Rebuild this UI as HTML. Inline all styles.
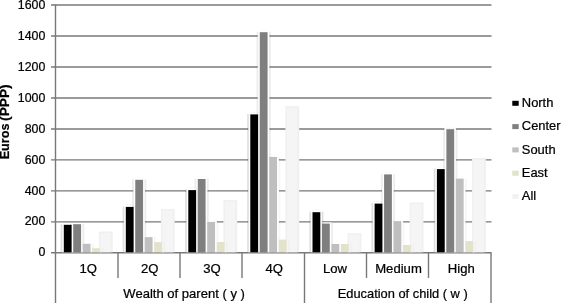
<!DOCTYPE html><html><head><meta charset="utf-8"><title>chart</title>
<style>html,body{margin:0;padding:0;background:#fff}body{width:561px;height:303px;overflow:hidden}svg{display:block}text{stroke:#000;stroke-width:0.22px;font-family:"Liberation Sans",Arial,Helvetica,sans-serif;fill:#000}</style></head><body>
<svg width="561" height="303" viewBox="0 0 561 303">
<rect width="561" height="303" fill="#fff"/>
<line x1="51" y1="5.05" x2="491.5" y2="5.05" stroke="#787878" stroke-width="1.4"/>
<line x1="51" y1="36.02" x2="491.5" y2="36.02" stroke="#787878" stroke-width="1.4"/>
<line x1="51" y1="66.99" x2="491.5" y2="66.99" stroke="#787878" stroke-width="1.4"/>
<line x1="51" y1="97.96" x2="491.5" y2="97.96" stroke="#787878" stroke-width="1.4"/>
<line x1="51" y1="128.93" x2="491.5" y2="128.93" stroke="#787878" stroke-width="1.4"/>
<line x1="51" y1="159.89" x2="491.5" y2="159.89" stroke="#787878" stroke-width="1.4"/>
<line x1="51" y1="190.86" x2="491.5" y2="190.86" stroke="#787878" stroke-width="1.4"/>
<line x1="51" y1="221.83" x2="491.5" y2="221.83" stroke="#787878" stroke-width="1.4"/>
<line x1="51" y1="252.80" x2="491.5" y2="252.80" stroke="#787878" stroke-width="1.4"/>
<line x1="55.5" y1="4.55" x2="55.5" y2="303" stroke="#787878" stroke-width="1.4"/>
<line x1="118.0" y1="252.8" x2="118.0" y2="277.9" stroke="#787878" stroke-width="1.4"/>
<line x1="180.0" y1="252.8" x2="180.0" y2="277.9" stroke="#787878" stroke-width="1.4"/>
<line x1="242.0" y1="252.8" x2="242.0" y2="277.9" stroke="#787878" stroke-width="1.4"/>
<line x1="304.5" y1="252.8" x2="304.5" y2="303" stroke="#787878" stroke-width="1.4"/>
<line x1="366.5" y1="252.8" x2="366.5" y2="277.9" stroke="#787878" stroke-width="1.4"/>
<line x1="428.5" y1="252.8" x2="428.5" y2="277.9" stroke="#787878" stroke-width="1.4"/>
<line x1="491.0" y1="252.8" x2="491.0" y2="303" stroke="#787878" stroke-width="1.4"/>
<rect x="61.70" y="223.70" width="11.80" height="28.55" fill="#fff"/>
<rect x="71.17" y="223.10" width="11.80" height="29.15" fill="#fff"/>
<rect x="80.65" y="242.70" width="11.80" height="9.55" fill="#fff"/>
<rect x="90.12" y="247.10" width="11.80" height="5.15" fill="#fff"/>
<rect x="123.70" y="205.80" width="11.80" height="46.45" fill="#fff"/>
<rect x="133.18" y="178.70" width="11.80" height="73.55" fill="#fff"/>
<rect x="142.65" y="236.00" width="11.80" height="16.25" fill="#fff"/>
<rect x="152.12" y="241.00" width="11.80" height="11.25" fill="#fff"/>
<rect x="186.20" y="189.00" width="11.80" height="63.25" fill="#fff"/>
<rect x="195.68" y="177.90" width="11.80" height="74.35" fill="#fff"/>
<rect x="205.15" y="220.80" width="11.80" height="31.45" fill="#fff"/>
<rect x="214.63" y="240.90" width="11.80" height="11.35" fill="#fff"/>
<rect x="248.20" y="113.30" width="11.80" height="138.95" fill="#fff"/>
<rect x="257.68" y="31.10" width="11.80" height="221.15" fill="#fff"/>
<rect x="267.15" y="155.80" width="11.80" height="96.45" fill="#fff"/>
<rect x="276.62" y="238.50" width="11.80" height="13.75" fill="#fff"/>
<rect x="310.40" y="211.10" width="11.80" height="41.15" fill="#fff"/>
<rect x="319.88" y="222.50" width="11.80" height="29.75" fill="#fff"/>
<rect x="329.35" y="242.90" width="11.80" height="9.35" fill="#fff"/>
<rect x="338.82" y="242.90" width="11.80" height="9.35" fill="#fff"/>
<rect x="372.50" y="202.50" width="11.80" height="49.75" fill="#fff"/>
<rect x="381.98" y="173.30" width="11.80" height="78.95" fill="#fff"/>
<rect x="391.45" y="220.00" width="11.80" height="32.25" fill="#fff"/>
<rect x="400.93" y="243.90" width="11.80" height="8.35" fill="#fff"/>
<rect x="434.80" y="168.00" width="11.80" height="84.25" fill="#fff"/>
<rect x="444.28" y="128.10" width="11.80" height="124.15" fill="#fff"/>
<rect x="453.75" y="177.50" width="11.80" height="74.75" fill="#fff"/>
<rect x="463.23" y="240.00" width="11.80" height="12.25" fill="#fff"/>
<rect x="98.90" y="231.50" width="13.80" height="20.75" fill="#f0f0f0"/>
<rect x="160.90" y="209.00" width="13.80" height="43.25" fill="#f0f0f0"/>
<rect x="223.40" y="200.10" width="13.80" height="52.15" fill="#f0f0f0"/>
<rect x="285.40" y="106.20" width="13.80" height="146.05" fill="#f0f0f0"/>
<rect x="347.60" y="233.20" width="13.80" height="19.05" fill="#f0f0f0"/>
<rect x="409.70" y="202.50" width="13.80" height="49.75" fill="#f0f0f0"/>
<rect x="472.00" y="158.00" width="13.80" height="94.25" fill="#f0f0f0"/>
<rect x="100.40" y="233.00" width="10.40" height="19.25" fill="#f5f5f5"/>
<rect x="162.40" y="210.50" width="10.40" height="41.75" fill="#f5f5f5"/>
<rect x="224.90" y="201.60" width="10.40" height="50.65" fill="#f5f5f5"/>
<rect x="286.90" y="107.70" width="10.40" height="144.55" fill="#f5f5f5"/>
<rect x="349.10" y="234.70" width="10.40" height="17.55" fill="#f5f5f5"/>
<rect x="411.20" y="204.00" width="10.40" height="48.25" fill="#f5f5f5"/>
<rect x="473.50" y="159.50" width="10.40" height="92.75" fill="#f5f5f5"/>
<path d="M61.50 252.10V224.30M73.90 224.30V252.10" fill="none" stroke="#000" stroke-opacity="0.12" stroke-width="1.8"/>
<path d="M62.80 222.60H72.60" fill="none" stroke="#000" stroke-opacity="0.036" stroke-width="1"/>
<path d="M70.97 252.10V223.70M83.37 223.70V252.10" fill="none" stroke="#000" stroke-opacity="0.075" stroke-width="1.8"/>
<path d="M72.27 222.00H82.07" fill="none" stroke="#000" stroke-opacity="0.022" stroke-width="1"/>
<path d="M80.45 252.10V243.30M92.85 243.30V252.10" fill="none" stroke="#000" stroke-opacity="0.035" stroke-width="1.8"/>
<path d="M81.75 241.60H91.55" fill="none" stroke="#000" stroke-opacity="0.011" stroke-width="1"/>
<path d="M89.92 252.10V247.70M102.32 247.70V252.10" fill="none" stroke="#000" stroke-opacity="0.02" stroke-width="1.8"/>
<path d="M91.22 246.00H101.02" fill="none" stroke="#000" stroke-opacity="0.006" stroke-width="1"/>
<path d="M123.50 252.10V206.40M135.90 206.40V252.10" fill="none" stroke="#000" stroke-opacity="0.12" stroke-width="1.8"/>
<path d="M124.80 204.70H134.60" fill="none" stroke="#000" stroke-opacity="0.036" stroke-width="1"/>
<path d="M132.97 252.10V179.30M145.38 179.30V252.10" fill="none" stroke="#000" stroke-opacity="0.075" stroke-width="1.8"/>
<path d="M134.28 177.60H144.08" fill="none" stroke="#000" stroke-opacity="0.022" stroke-width="1"/>
<path d="M142.45 252.10V236.60M154.85 236.60V252.10" fill="none" stroke="#000" stroke-opacity="0.035" stroke-width="1.8"/>
<path d="M143.75 234.90H153.55" fill="none" stroke="#000" stroke-opacity="0.011" stroke-width="1"/>
<path d="M151.92 252.10V241.60M164.33 241.60V252.10" fill="none" stroke="#000" stroke-opacity="0.02" stroke-width="1.8"/>
<path d="M153.22 239.90H163.03" fill="none" stroke="#000" stroke-opacity="0.006" stroke-width="1"/>
<path d="M186.00 252.10V189.60M198.40 189.60V252.10" fill="none" stroke="#000" stroke-opacity="0.12" stroke-width="1.8"/>
<path d="M187.30 187.90H197.10" fill="none" stroke="#000" stroke-opacity="0.036" stroke-width="1"/>
<path d="M195.47 252.10V178.50M207.88 178.50V252.10" fill="none" stroke="#000" stroke-opacity="0.075" stroke-width="1.8"/>
<path d="M196.78 176.80H206.58" fill="none" stroke="#000" stroke-opacity="0.022" stroke-width="1"/>
<path d="M204.95 252.10V221.40M217.35 221.40V252.10" fill="none" stroke="#000" stroke-opacity="0.035" stroke-width="1.8"/>
<path d="M206.25 219.70H216.05" fill="none" stroke="#000" stroke-opacity="0.011" stroke-width="1"/>
<path d="M214.43 252.10V241.50M226.83 241.50V252.10" fill="none" stroke="#000" stroke-opacity="0.02" stroke-width="1.8"/>
<path d="M215.73 239.80H225.53" fill="none" stroke="#000" stroke-opacity="0.006" stroke-width="1"/>
<path d="M248.00 252.10V113.90M260.40 113.90V252.10" fill="none" stroke="#000" stroke-opacity="0.12" stroke-width="1.8"/>
<path d="M249.30 112.20H259.10" fill="none" stroke="#000" stroke-opacity="0.036" stroke-width="1"/>
<path d="M257.48 252.10V31.70M269.88 31.70V252.10" fill="none" stroke="#000" stroke-opacity="0.075" stroke-width="1.8"/>
<path d="M258.78 30.00H268.58" fill="none" stroke="#000" stroke-opacity="0.022" stroke-width="1"/>
<path d="M266.95 252.10V156.40M279.35 156.40V252.10" fill="none" stroke="#000" stroke-opacity="0.035" stroke-width="1.8"/>
<path d="M268.25 154.70H278.05" fill="none" stroke="#000" stroke-opacity="0.011" stroke-width="1"/>
<path d="M276.43 252.10V239.10M288.83 239.10V252.10" fill="none" stroke="#000" stroke-opacity="0.02" stroke-width="1.8"/>
<path d="M277.73 237.40H287.53" fill="none" stroke="#000" stroke-opacity="0.006" stroke-width="1"/>
<path d="M310.20 252.10V211.70M322.60 211.70V252.10" fill="none" stroke="#000" stroke-opacity="0.12" stroke-width="1.8"/>
<path d="M311.50 210.00H321.30" fill="none" stroke="#000" stroke-opacity="0.036" stroke-width="1"/>
<path d="M319.68 252.10V223.10M332.08 223.10V252.10" fill="none" stroke="#000" stroke-opacity="0.075" stroke-width="1.8"/>
<path d="M320.98 221.40H330.78" fill="none" stroke="#000" stroke-opacity="0.022" stroke-width="1"/>
<path d="M329.15 252.10V243.50M341.55 243.50V252.10" fill="none" stroke="#000" stroke-opacity="0.035" stroke-width="1.8"/>
<path d="M330.45 241.80H340.25" fill="none" stroke="#000" stroke-opacity="0.011" stroke-width="1"/>
<path d="M338.62 252.10V243.50M351.03 243.50V252.10" fill="none" stroke="#000" stroke-opacity="0.02" stroke-width="1.8"/>
<path d="M339.93 241.80H349.73" fill="none" stroke="#000" stroke-opacity="0.006" stroke-width="1"/>
<path d="M372.30 252.10V203.10M384.70 203.10V252.10" fill="none" stroke="#000" stroke-opacity="0.12" stroke-width="1.8"/>
<path d="M373.60 201.40H383.40" fill="none" stroke="#000" stroke-opacity="0.036" stroke-width="1"/>
<path d="M381.78 252.10V173.90M394.18 173.90V252.10" fill="none" stroke="#000" stroke-opacity="0.075" stroke-width="1.8"/>
<path d="M383.08 172.20H392.88" fill="none" stroke="#000" stroke-opacity="0.022" stroke-width="1"/>
<path d="M391.25 252.10V220.60M403.65 220.60V252.10" fill="none" stroke="#000" stroke-opacity="0.035" stroke-width="1.8"/>
<path d="M392.55 218.90H402.35" fill="none" stroke="#000" stroke-opacity="0.011" stroke-width="1"/>
<path d="M400.73 252.10V244.50M413.13 244.50V252.10" fill="none" stroke="#000" stroke-opacity="0.02" stroke-width="1.8"/>
<path d="M402.03 242.80H411.83" fill="none" stroke="#000" stroke-opacity="0.006" stroke-width="1"/>
<path d="M434.60 252.10V168.60M447.00 168.60V252.10" fill="none" stroke="#000" stroke-opacity="0.12" stroke-width="1.8"/>
<path d="M435.90 166.90H445.70" fill="none" stroke="#000" stroke-opacity="0.036" stroke-width="1"/>
<path d="M444.08 252.10V128.70M456.48 128.70V252.10" fill="none" stroke="#000" stroke-opacity="0.075" stroke-width="1.8"/>
<path d="M445.38 127.00H455.18" fill="none" stroke="#000" stroke-opacity="0.022" stroke-width="1"/>
<path d="M453.55 252.10V178.10M465.95 178.10V252.10" fill="none" stroke="#000" stroke-opacity="0.035" stroke-width="1.8"/>
<path d="M454.85 176.40H464.65" fill="none" stroke="#000" stroke-opacity="0.011" stroke-width="1"/>
<path d="M463.03 252.10V240.60M475.43 240.60V252.10" fill="none" stroke="#000" stroke-opacity="0.02" stroke-width="1.8"/>
<path d="M464.33 238.90H474.13" fill="none" stroke="#000" stroke-opacity="0.006" stroke-width="1"/>
<rect x="63.80" y="224.80" width="7.80" height="27.45" fill="#000000"/>
<rect x="73.27" y="224.20" width="7.80" height="28.05" fill="#7f7f7f"/>
<rect x="82.75" y="243.80" width="7.80" height="8.45" fill="#bfbfbf"/>
<rect x="92.22" y="248.20" width="7.80" height="4.05" fill="#e3e2ca"/>
<rect x="125.80" y="206.90" width="7.80" height="45.35" fill="#000000"/>
<rect x="135.28" y="179.80" width="7.80" height="72.45" fill="#7f7f7f"/>
<rect x="144.75" y="237.10" width="7.80" height="15.15" fill="#bfbfbf"/>
<rect x="154.22" y="242.10" width="7.80" height="10.15" fill="#e3e2ca"/>
<rect x="188.30" y="190.10" width="7.80" height="62.15" fill="#000000"/>
<rect x="197.78" y="179.00" width="7.80" height="73.25" fill="#7f7f7f"/>
<rect x="207.25" y="221.90" width="7.80" height="30.35" fill="#bfbfbf"/>
<rect x="216.73" y="242.00" width="7.80" height="10.25" fill="#e3e2ca"/>
<rect x="250.30" y="114.40" width="7.80" height="137.85" fill="#000000"/>
<rect x="259.78" y="32.20" width="7.80" height="220.05" fill="#7f7f7f"/>
<rect x="269.25" y="156.90" width="7.80" height="95.35" fill="#bfbfbf"/>
<rect x="278.73" y="239.60" width="7.80" height="12.65" fill="#e3e2ca"/>
<rect x="312.50" y="212.20" width="7.80" height="40.05" fill="#000000"/>
<rect x="321.98" y="223.60" width="7.80" height="28.65" fill="#7f7f7f"/>
<rect x="331.45" y="244.00" width="7.80" height="8.25" fill="#bfbfbf"/>
<rect x="340.93" y="244.00" width="7.80" height="8.25" fill="#e3e2ca"/>
<rect x="374.60" y="203.60" width="7.80" height="48.65" fill="#000000"/>
<rect x="384.08" y="174.40" width="7.80" height="77.85" fill="#7f7f7f"/>
<rect x="393.55" y="221.10" width="7.80" height="31.15" fill="#bfbfbf"/>
<rect x="403.03" y="245.00" width="7.80" height="7.25" fill="#e3e2ca"/>
<rect x="436.90" y="169.10" width="7.80" height="83.15" fill="#000000"/>
<rect x="446.38" y="129.20" width="7.80" height="123.05" fill="#7f7f7f"/>
<rect x="455.85" y="178.60" width="7.80" height="73.65" fill="#bfbfbf"/>
<rect x="465.33" y="241.10" width="7.80" height="11.15" fill="#e3e2ca"/>
<text transform="translate(45.30,8.70) scale(1.015,1)" font-size="12.2" text-anchor="end">1600</text>
<text transform="translate(45.30,39.67) scale(1.015,1)" font-size="12.2" text-anchor="end">1400</text>
<text transform="translate(45.30,70.64) scale(1.015,1)" font-size="12.2" text-anchor="end">1200</text>
<text transform="translate(45.30,101.61) scale(1.015,1)" font-size="12.2" text-anchor="end">1000</text>
<text transform="translate(45.30,132.58) scale(1.015,1)" font-size="12.2" text-anchor="end">800</text>
<text transform="translate(45.30,163.54) scale(1.015,1)" font-size="12.2" text-anchor="end">600</text>
<text transform="translate(45.30,194.51) scale(1.015,1)" font-size="12.2" text-anchor="end">400</text>
<text transform="translate(45.30,225.48) scale(1.015,1)" font-size="12.2" text-anchor="end">200</text>
<text transform="translate(45.30,256.45) scale(1.015,1)" font-size="12.2" text-anchor="end">0</text>
<text transform="translate(8.8,141.4) rotate(-90) scale(0.99,1)" font-size="12.8" font-weight="bold" text-anchor="middle">Euros</text>
<text transform="translate(8.8,102.65) rotate(-90) scale(1.07,1)" font-size="12.8" font-weight="bold" text-anchor="middle">(PPP)</text>
<text transform="translate(88.15,273.40) scale(1.075,1)" font-size="12.2" text-anchor="middle">1Q</text>
<text transform="translate(149.70,273.40) scale(1.075,1)" font-size="12.2" text-anchor="middle">2Q</text>
<text transform="translate(212.00,273.40) scale(1.075,1)" font-size="12.2" text-anchor="middle">3Q</text>
<text transform="translate(274.25,273.40) scale(1.075,1)" font-size="12.2" text-anchor="middle">4Q</text>
<text transform="translate(334.90,273.40) scale(1.075,1)" font-size="12.2" text-anchor="middle">Low</text>
<text transform="translate(398.50,273.40) scale(1.075,1)" font-size="12.2" text-anchor="middle">Medium</text>
<text transform="translate(461.35,273.40) scale(1.075,1)" font-size="12.2" text-anchor="middle">High</text>
<text transform="translate(184.10,298.30) scale(1.07,1)" font-size="12.2" text-anchor="middle">Wealth of parent ( y )</text>
<text transform="translate(402.70,298.40) scale(1.055,1)" font-size="12.2" text-anchor="middle">Education of child ( w )</text>
<rect x="512.3" y="100.80" width="6.4" height="5" fill="#000000"/>
<text transform="translate(521.80,106.90) scale(1.06,1)" font-size="12.2" text-anchor="start">North</text>
<rect x="512.3" y="124.10" width="6.4" height="5" fill="#7f7f7f"/>
<text transform="translate(521.80,130.20) scale(1.06,1)" font-size="12.2" text-anchor="start">Center</text>
<rect x="512.3" y="147.40" width="6.4" height="5" fill="#bfbfbf"/>
<text transform="translate(521.80,153.50) scale(1.06,1)" font-size="12.2" text-anchor="start">South</text>
<rect x="512.3" y="170.70" width="6.4" height="5" fill="#e3e2ca"/>
<text transform="translate(521.80,176.80) scale(1.06,1)" font-size="12.2" text-anchor="start">East</text>
<rect x="512.3" y="194.00" width="6.4" height="5" fill="#f2f2f2"/>
<text transform="translate(521.80,200.10) scale(1.06,1)" font-size="12.2" text-anchor="start">All</text>
</svg></body></html>
